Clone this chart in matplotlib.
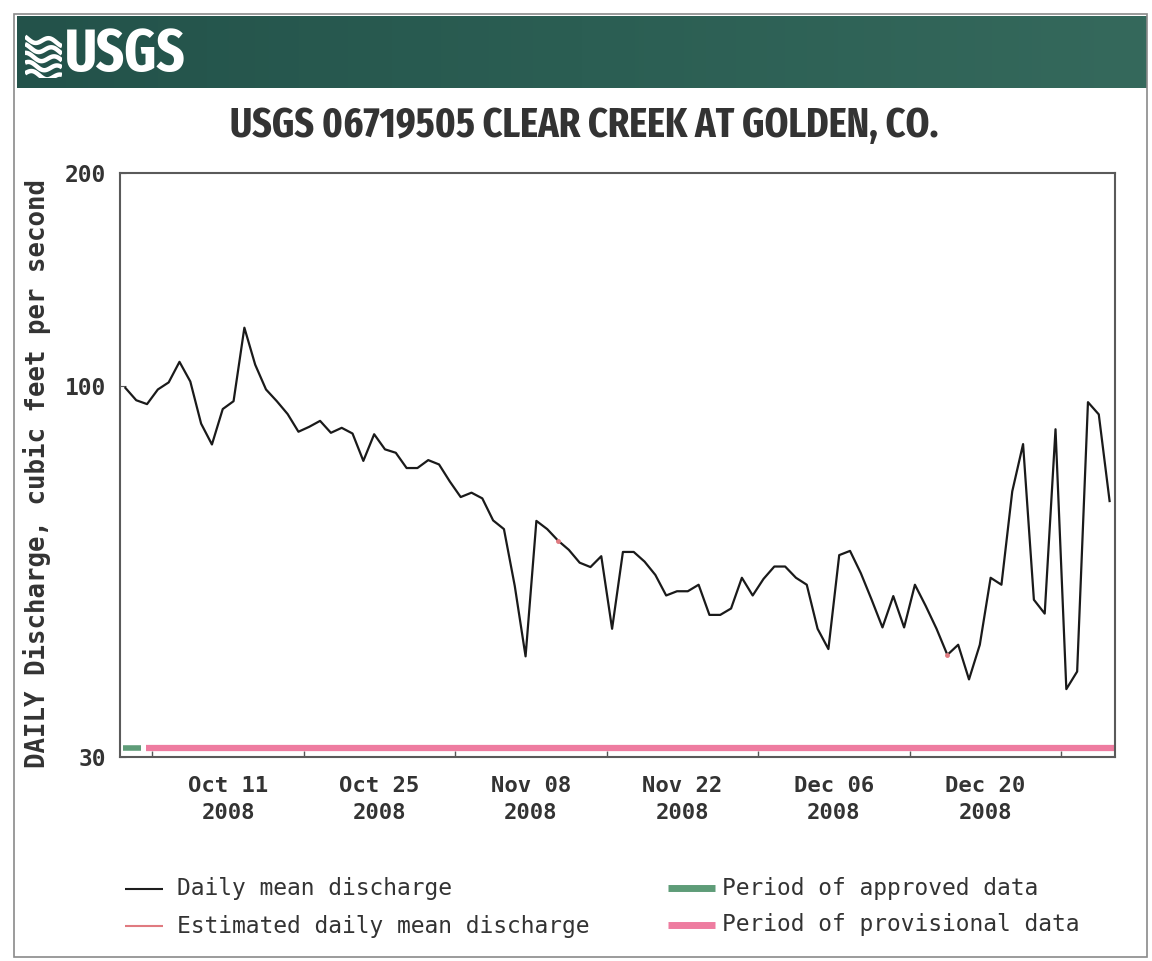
import os
import numpy as np
import pandas as pd
import matplotlib
matplotlib.use("Agg")
import matplotlib.pyplot as plt
from matplotlib import font_manager
from matplotlib.font_manager import FontProperties
from matplotlib.lines import Line2D
from matplotlib.patches import Rectangle

# ── Data: daily mean discharge, Oct 1 - Dec 31 2008 (cfs) ───────────────────
DATES = pd.date_range("2008-10-01 12:00", "2008-12-31 12:00", freq="D")
DISCHARGE = [
    99.5, 95.6, 94.4, 99.0, 101.3, 108.3, 101.6, 88.6, 82.8, 92.9,
    95.3, 121.0, 107.3, 99.0, 95.3, 91.4, 86.3, 87.7, 89.4, 86.0,
    87.4, 85.8, 78.5, 85.6, 81.5, 80.6, 76.7, 76.7, 78.7, 77.6,
    73.4, 69.8, 70.8, 69.5, 64.7, 62.9, 52.3, 41.6, 64.6, 62.9,
    60.6, 58.8, 56.4, 55.6, 57.6, 45.5, 58.4, 58.4, 56.6, 54.2,
    50.7, 51.4, 51.4, 52.5, 47.6, 47.6, 48.6, 53.7, 50.7, 53.5,
    55.7, 55.7, 53.7, 52.5, 45.5, 42.6, 57.8, 58.6, 54.5, 50.0,
    45.7, 50.6, 45.7, 52.5, 49.0, 45.5, 41.8, 43.2, 38.6, 43.2,
    53.7, 52.5, 71.1, 82.9, 50.0, 47.8, 87.0, 37.4, 39.6, 95.0,
    91.3, 68.9,
]
ESTIMATED_IDX = [40, 76]

APPROVED_PERIOD = ("2008-10-01 07:00", "2008-10-02 23:00")
PROVISIONAL_PERIOD = ("2008-10-03 09:00", "2008-12-31 23:00")

X_LABEL_DATES = ["2008-10-11", "2008-10-25", "2008-11-08",
                 "2008-11-22", "2008-12-06", "2008-12-20"]
X_LABELS = ["Oct 11\n2008", "Oct 25\n2008", "Nov 08\n2008",
            "Nov 22\n2008", "Dec 06\n2008", "Dec 20\n2008"]
X_MINOR_DATES = pd.date_range("2008-10-04", "2008-12-31", freq="14D")
Y_TICKS = [30, 100, 200]
Y_LABELS = ["30", "100", "200"]

TITLE = "USGS 06719505 CLEAR CREEK AT GOLDEN, CO."
YLABEL = "DAILY Discharge, cubic feet per second"

# ── Styling ──────────────────────────────────────────────────────────────────
W, H = 1152, 961
TXT = "#333333"
GREEN = "#5e9c78"
PINK = "#ee7ca0"
EST_RED = "#e07a80"
MONO = "DejaVu Sans Mono"


def pick_narrow_bold():
    """Narrowest bold upright face available, else Liberation Sans Bold."""
    best, best_score = None, None
    for f in font_manager.fontManager.ttflist:
        base = os.path.basename(f.fname)
        low = base.lower()
        if not ("condensed" in low or "narrow" in low or "cond" in low):
            continue
        if "italic" in low or "oblique" in low:
            continue
        score = 0
        if "extracondensed" in low or "extra" in low and "condensed" in low:
            score += 4
        elif "narrow" in low:
            score += 3
        elif "semicondensed" in low:
            score += 1
        else:
            score += 2
        if "bold" in low and not any(w in low for w in ("extrabold", "semibold", "ultrabold")):
            score += 10
        if best_score is None or score > best_score:
            best, best_score = f, score
    if best is not None:
        return FontProperties(fname=best.fname)
    return FontProperties(family="Liberation Sans", weight="bold")


HEAD_FP = pick_narrow_bold()


def fx(px):
    return px / W


def fy(py):
    return 1 - py / H


def fit_width(txt, target_px, renderer):
    """Rescale a text so that its rendered width is target_px."""
    bb = txt.get_window_extent(renderer)
    txt.set_fontsize(txt.get_fontsize() * target_px / bb.width)


fig = plt.figure(figsize=(W / 100, H / 100), dpi=100)
fig.patch.set_facecolor("white")
renderer = fig.canvas.get_renderer()

# outer frame
fig.patches.append(Rectangle((fx(14), fy(957)), fx(1147) - fx(14), fy(14) - fy(957),
                             transform=fig.transFigure, fill=False,
                             ec="#8a8a8a", lw=1.2))

# banner with gradient
banner = fig.add_axes([fx(17), fy(88), fx(1147) - fx(17), fy(16) - fy(88)])
grad = np.linspace(0, 1, 256).reshape(1, -1)
cmap = matplotlib.colors.LinearSegmentedColormap.from_list(
    "usgs", ["#23524a", "#2b5e53", "#35695c"])
banner.imshow(grad, aspect="auto", cmap=cmap, extent=[0, 1, 0, 1])
banner.axis("off")

# USGS wave mark
logo = fig.add_axes([fx(25), fy(78), fx(62) - fx(25), fy(32) - fy(78)])
logo.set_xlim(0, 1)
logo.set_ylim(0, 1)
logo.axis("off")
t = np.linspace(0, 1, 60)
for k in range(5):
    logo.plot(t, 0.1 + 0.19 * k + 0.07 * np.sin(2 * np.pi * (t * 1.3 + 0.1 * k)) - 0.1 * t,
              color="white", lw=3.2, solid_capstyle="butt")

usgs_txt = fig.text(fx(65), fy(55), "USGS", color="white", fontproperties=HEAD_FP,
                    fontsize=40, ha="left", va="center")
fit_width(usgs_txt, 121, renderer)

title_txt = fig.text(fx(584), fy(126), TITLE, color=TXT, fontproperties=HEAD_FP,
                     fontsize=30, ha="center", va="center")
fit_width(title_txt, 708, renderer)

# ── Hydrograph ───────────────────────────────────────────────────────────────
ax = fig.add_axes([fx(120), fy(757), fx(1115) - fx(120), fy(173) - fy(757)])
ax.set_yscale("log")
ax.set_ylim(30, 200)
ax.set_xlim(pd.Timestamp("2008-10-01"), pd.Timestamp("2009-01-01"))

ax.plot(DATES, DISCHARGE, color="#1a1a1a", lw=1.6, zorder=3)
est_dates = [DATES[i] for i in ESTIMATED_IDX]
est_vals = [DISCHARGE[i] for i in ESTIMATED_IDX]
ax.plot(est_dates, est_vals, ls="none", marker="o", ms=2.5,
        color=EST_RED, zorder=4)

bar_tr = ax.get_xaxis_transform()
ax.plot([pd.Timestamp(d) for d in APPROVED_PERIOD], [0.0146, 0.0146],
        transform=bar_tr, color=GREEN, lw=4, solid_capstyle="butt", zorder=2)
ax.plot([pd.Timestamp(d) for d in PROVISIONAL_PERIOD], [0.0146, 0.0146],
        transform=bar_tr, color=PINK, lw=4.5, solid_capstyle="butt", zorder=2)

ax.set_xticks([pd.Timestamp(d) for d in X_LABEL_DATES])
ax.set_xticklabels(X_LABELS, family=MONO, fontweight="bold", fontsize=16,
                   color=TXT, linespacing=1.4)
ax.set_xticks(X_MINOR_DATES, minor=True)
ax.tick_params(axis="x", which="major", length=0, pad=14)
ax.tick_params(axis="x", which="minor", direction="in", length=4,
               color="#555555", width=1)

ax.yaxis.set_minor_locator(matplotlib.ticker.NullLocator())
ax.set_yticks(Y_TICKS)
ax.set_yticklabels(Y_LABELS, family=MONO, fontweight="bold", fontsize=16.5,
                   color=TXT)
ax.tick_params(axis="y", which="major", direction="in", length=4,
               color="#555555", pad=10)

for s in ax.spines.values():
    s.set_color("#5a5a5a")
    s.set_linewidth(1.5)

fig.text(fx(37), fy(473), YLABEL, rotation=90, family=MONO, fontweight="bold",
         fontsize=18.5, color=TXT, ha="center", va="center")

# ── Legend ───────────────────────────────────────────────────────────────────
legend_rows = [
    (fx(125), fx(163), fy(889), "#1e1e1e", 1.5, fx(177), "Daily mean discharge"),
    (fx(125), fx(163), fy(926), EST_RED, 1.5, fx(177), "Estimated daily mean discharge"),
    (fx(668), fx(715), fy(888), GREEN, 5, fx(722), "Period of approved data"),
    (fx(668), fx(715), fy(925), PINK, 5, fx(722), "Period of provisional data"),
]
for x0, x1, yy, col, lw, tx, label in legend_rows:
    fig.add_artist(Line2D([x0, x1], [yy, yy], transform=fig.transFigure,
                          color=col, lw=lw, solid_capstyle="butt"))
    fig.text(tx, yy, label, family=MONO, fontsize=16.5, color=TXT,
             ha="left", va="center")

fig.savefig("out.png", dpi=100, facecolor="white")
